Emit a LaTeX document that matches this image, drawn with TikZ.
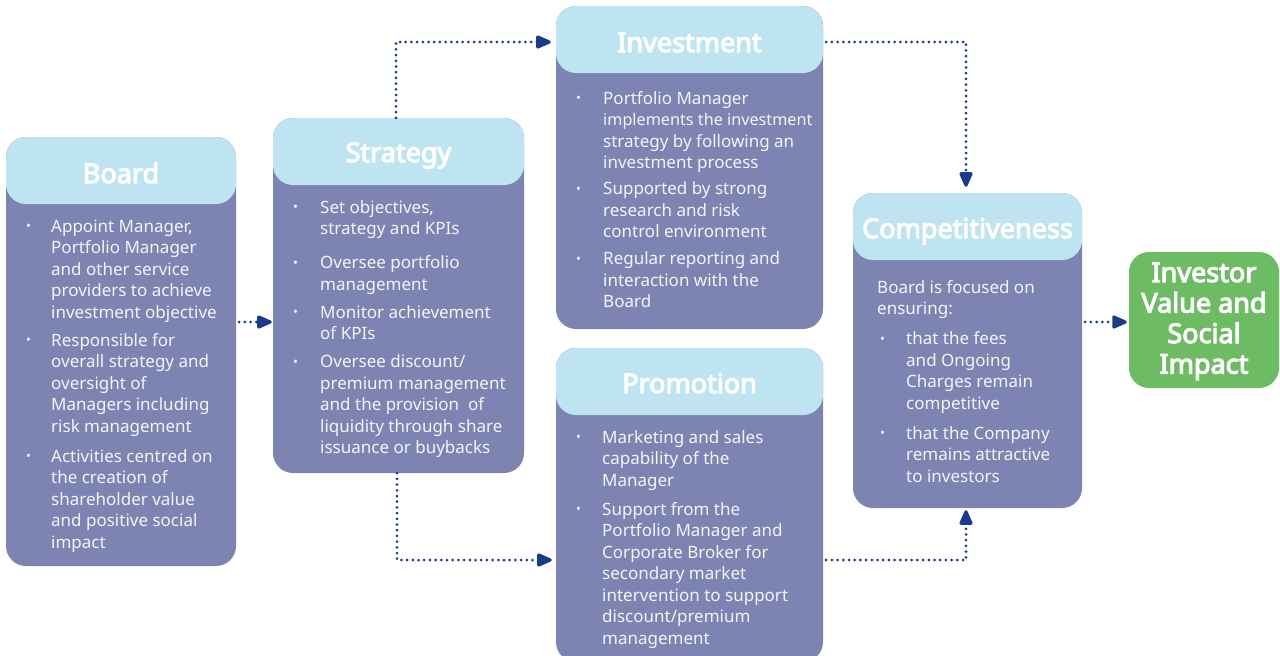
\documentclass[tikz,border=0pt]{standalone}
\usepackage{fontspec}
\setmainfont{Noto Sans}[AutoFakeBold=4]
\usetikzlibrary{arrows.meta,calc}
\definecolor{headc}{HTML}{BDE4F0}
\definecolor{bodyc}{HTML}{7D84B2}
\definecolor{greenc}{HTML}{6DBB63}
\definecolor{arrowc}{HTML}{1A3A8A}
\definecolor{txtc}{HTML}{F4F4F8}
\newcommand{\bodyfont}{\fontsize{17}{21.5}\selectfont}
\newcommand{\titlefont}{\fontsize{27}{30.5}\selectfont\bfseries}
\newcommand{\bul}{{\fontsize{13}{13}\selectfont\raisebox{1.5pt}{•}}}
\tikzset{
  panel/.style={rounded corners=20pt, fill=bodyc, inner sep=0pt, draw=none,
    path picture={\fill[headc] (path picture bounding box.north west) rectangle ([yshift=-67pt]path picture bounding box.north east);}},
  goal/.style={rounded corners=20pt, fill=greenc, inner sep=0pt, draw=none},
  ttl/.style={anchor=base, text=white, inner sep=0pt, font=\titlefont},
  bodytxt/.style={anchor=base west, text=txtc, inner sep=0pt, font=\bodyfont},
  conn/.style={draw=arrowc, line width=3pt, line cap=round, dash pattern=on 0pt off 5.7pt,
    -{Triangle[length=17pt,width=14pt,round=false]}},
}
\begin{document}
\begin{tikzpicture}[x=1pt,y=-1pt]
\useasboundingbox (0,0) rectangle (1280,656);
% panels
\node[panel, minimum width=230pt, minimum height=429pt] (board) at (121,351.5) {};
\node[panel, minimum width=251pt, minimum height=355pt] (strategy) at (398.5,295.5) {};
\node[panel, minimum width=267pt, minimum height=323pt] (investment) at (689.5,167.5) {};
\node[panel, minimum width=267pt, minimum height=314pt] (promotion) at (689.5,505) {};
\node[panel, minimum width=229pt, minimum height=315pt] (compet) at (967.5,350.5) {};
\node[goal, minimum width=150pt, minimum height=136pt] (investor) at (1204,320) {};
% titles
\node[ttl] (tboard) at (121,183) {Board};
\node[ttl] (tstrategy) at (398.5,162) {Strategy};
\node[ttl] (tinvest) at (689.5,52) {Investment};
\node[ttl] (tpromo) at (689.5,393) {Promotion};
\node[ttl] (tcompet) at (967.5,238) {Competitiveness};
\node[ttl] (tinvestor) at (1204,282) {\begin{tabular}[t]{@{}c@{}}Investor\\Value and\\Social\\Impact\end{tabular}};
% body texts
\node[bodytxt] (bboard) at (26,232) {\begin{tabular}[t]{@{}p{25pt}@{}l@{}}
\bul & Appoint Manager,\\
 & Portfolio Manager\\
 & and other service\\
 & providers to achieve\\
 & investment objective\\[6.5pt]
\bul & Responsible for\\
 & overall strategy and\\
 & oversight of\\
 & Managers including\\
 & risk management\\[8.5pt]
\bul & Activities centred on\\
 & the creation of\\
 & shareholder value\\
 & and positive social\\
 & impact
\end{tabular}};
\node[bodytxt] (bstrategy) at (293,213) {\begin{tabular}[t]{@{}p{27pt}@{}l@{}}
\bul & Set objectives,\\
 & strategy and KPIs\\[12.5pt]
\bul & Oversee portfolio\\
 & management\\[6.5pt]
\bul & Monitor achievement\\
 & of KPIs\\[6.5pt]
\bul & Oversee discount/\\
 & premium management\\
 & and the provision\ \ of\\
 & liquidity through share\\
 & issuance or buybacks
\end{tabular}};
\node[bodytxt] (binvest) at (576,104) {\begin{tabular}[t]{@{}p{27pt}@{}l@{}}
\bul & Portfolio Manager\\
 & {\fontsize{16.2}{21.5}\selectfont implements the investment}\\
 & strategy by following an\\
 & investment process\\[4.5pt]
\bul & Supported by strong\\
 & research and risk\\
 & control environment\\[5.5pt]
\bul & Regular reporting and\\
 & interaction with the\\
 & Board
\end{tabular}};
\node[bodytxt] (bpromo) at (576,443) {\begin{tabular}[t]{@{}p{26pt}@{}l@{}}
\bul & Marketing and sales\\
 & capability of the\\
 & Manager\\[7.5pt]
\bul & Support from the\\
 & Portfolio Manager and\\
 & Corporate Broker for\\
 & secondary market\\
 & intervention to support\\
 & discount/premium\\
 & management
\end{tabular}};
\node[bodytxt] (bcompet) at (877,293) {\begin{tabular}[t]{@{}p{29pt}@{}l@{}}
\multicolumn{2}{@{}l@{}}{Board is focused on}\\
\multicolumn{2}{@{}l@{}}{ensuring:}\\[8.5pt]
\hspace{3pt}\bul & that the fees\\
 & and Ongoing\\
 & Charges remain\\
 & competitive\\[8.5pt]
\hspace{3pt}\bul & that the Company\\
 & remains attractive\\
 & to investors
\end{tabular}};
% connectors
\draw[conn, shorten <=3pt, shorten >=1pt] (board.east |- 0,322) -- (strategy.west |- 0,322);
\draw[conn, shorten >=5pt] (strategy.north -| 396,0) |- (investment.west |- 0,42);
\draw[conn, shorten <=3pt, shorten >=6pt] (investment.east |- 0,42) -| (compet.north -| 966,0);
\draw[conn, shorten >=4pt] (strategy.south -| 397,0) |- (promotion.west |- 0,560);
\draw[conn, shorten <=3pt, shorten >=2pt] (promotion.east |- 0,560) -| (compet.south -| 966,0);
\draw[conn, shorten <=3pt, shorten >=2pt] (compet.east |- 0,322) -- (investor.west |- 0,322);
\end{tikzpicture}
\end{document}
